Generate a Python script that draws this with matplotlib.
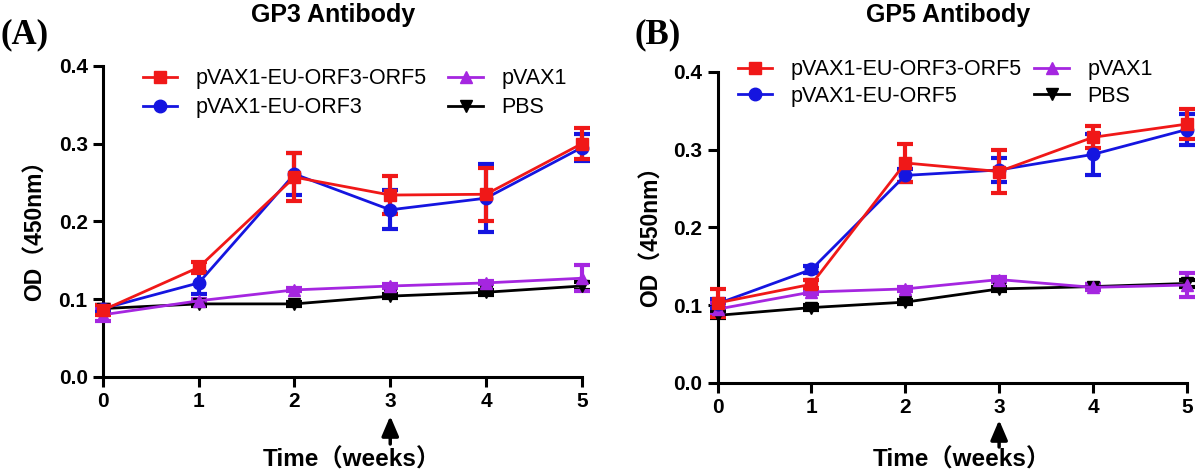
import matplotlib.pyplot as plt

# weeks after immunisation
weeks = [0, 1, 2, 3, 4, 5]

# GP3 antibody (A)
gp3_orf35 = [0.086, 0.141, 0.257, 0.234, 0.235, 0.300]
gp3_orf35_err = [0.006, 0.007, 0.031, 0.024, 0.034, 0.020]
gp3_orf3 = [0.088, 0.121, 0.261, 0.215, 0.230, 0.295]
gp3_orf3_err = [0.005, 0.014, 0.027, 0.025, 0.044, 0.017]
gp3_pvax = [0.080, 0.098, 0.112, 0.117, 0.121, 0.127]
gp3_pvax_err = [0.008, 0.002, 0.002, 0.002, 0.002, 0.017]
gp3_pbs = [0.088, 0.094, 0.094, 0.104, 0.109, 0.117]
gp3_pbs_err = [0.004, 0.003, 0.003, 0.003, 0.003, 0.005]

# GP5 antibody (B)
gp5_orf35 = [0.103, 0.127, 0.283, 0.272, 0.316, 0.333]
gp5_orf35_err = [0.018, 0.005, 0.025, 0.028, 0.014, 0.019]
gp5_orf5 = [0.102, 0.146, 0.267, 0.274, 0.294, 0.326]
gp5_orf5_err = [0.006, 0.004, 0.008, 0.016, 0.026, 0.020]
gp5_pvax = [0.095, 0.117, 0.121, 0.133, 0.123, 0.126]
gp5_pvax_err = [0.008, 0.003, 0.003, 0.003, 0.004, 0.016]
gp5_pbs = [0.087, 0.097, 0.104, 0.121, 0.124, 0.128]
gp5_pbs_err = [0.004, 0.003, 0.003, 0.003, 0.003, 0.005]

# week at which the booster was given (arrow)
boost_week = 3

RED = '#f01818'
BLUE = '#1515e0'
PURPLE = '#a526e0'
BLACK = '#000000'

plt.rcParams['font.family'] = ['Liberation Sans', 'Noto Sans CJK SC']

fig = plt.figure(figsize=(12, 4.73), dpi=100)
axA = fig.add_axes([0.0858, 0.203, 0.399, 0.6575])
axB = fig.add_axes([0.598, 0.1903, 0.391, 0.6575])


def draw(ax, series, title, title_x, panel, panel_x, leg_anchor, leg_rows, leg_cols,
         xlab_y, arrow_px):
    handles = {}
    for label, y, err, color, marker in series[::-1]:
        h = ax.errorbar(weeks, y, yerr=err, color=color, marker=marker, markersize=9,
                        linewidth=2, elinewidth=3, capsize=5.5, capthick=3,
                        label=label, clip_on=False, zorder=3)
        handles[label] = h.lines[0]
    order = [s[0] for s in series]
    ax.set_xlim(0, 5)
    ax.set_ylim(0, 0.4)
    ax.set_xticks(weeks)
    ax.set_yticks([0.0, 0.1, 0.2, 0.3, 0.4])
    ax.set_yticklabels(['0.0', '0.1', '0.2', '0.3', '0.4'])
    for side in ['top', 'right']:
        ax.spines[side].set_visible(False)
    for side in ['left', 'bottom']:
        ax.spines[side].set_linewidth(2.2)
    ax.tick_params(width=2.2, length=7, labelsize=15, pad=4)
    for lbl in ax.get_xticklabels() + ax.get_yticklabels():
        lbl.set_fontweight('bold')
    ax.text(-0.142, 0.49, 'OD（450nm）', transform=ax.transAxes, rotation=90,
            fontsize=16.5, fontweight='bold', ha='center', va='center')
    ax.text(0.52, xlab_y, 'Time（weeks）', transform=ax.transAxes,
            fontsize=17.5, fontweight='bold', ha='center', va='center')
    fig.text(title_x / 1200, 1 - 15 / 473, title, fontsize=18, fontweight='bold',
             ha='center', va='center')
    fig.text(panel_x / 1200, 1 - 35 / 473, panel, fontsize=25, fontweight='bold',
             family='Liberation Serif', ha='left', va='center')
    # booster arrow under the x axis (pixel rows counted from the top)
    xpix = ax.transData.transform((boost_week, 0))[0]
    fig.add_artist(plt.matplotlib.patches.FancyArrowPatch(
        (xpix, 473 - arrow_px[1]), (xpix, 473 - arrow_px[0]),
        transform=None, arrowstyle='-|>,head_length=0.75,head_width=0.32',
        color='black', lw=2.5, mutation_scale=16, shrinkA=0, shrinkB=0))
    leg = ax.legend([handles[k] for k in order], order, ncol=2, frameon=False,
                    loc='upper left', bbox_to_anchor=leg_anchor, fontsize=15.5,
                    borderpad=0, borderaxespad=0,
                    handlelength=1.6, handletextpad=0.85, columnspacing=leg_cols,
                    labelspacing=leg_rows)
    for t in leg.get_texts():
        t.set_fontweight('normal')


draw(axA, [('pVAX1-EU-ORF3-ORF5', gp3_orf35, gp3_orf35_err, RED, 's'),
           ('pVAX1-EU-ORF3', gp3_orf3, gp3_orf3_err, BLUE, 'o'),
           ('pVAX1', gp3_pvax, gp3_pvax_err, PURPLE, '^'),
           ('PBS', gp3_pbs, gp3_pbs_err, BLACK, 'v')],
     'GP3 Antibody', 333, '(A)', 0, (0.0835, 0.993), 0.38, 1.0,
     -0.267, (416, 444))
draw(axB, [('pVAX1-EU-ORF3-ORF5', gp5_orf35, gp5_orf35_err, RED, 's'),
           ('pVAX1-EU-ORF5', gp5_orf5, gp5_orf5_err, BLUE, 'o'),
           ('pVAX1', gp5_pvax, gp5_pvax_err, PURPLE, '^'),
           ('PBS', gp5_pbs, gp5_pbs_err, BLACK, 'v')],
     'GP5 Antibody', 948, '(B)', 634, (0.0426, 1.041), 0.26, 0.6,
     -0.248, (420, 447))

fig.savefig('out.png', dpi=100)
